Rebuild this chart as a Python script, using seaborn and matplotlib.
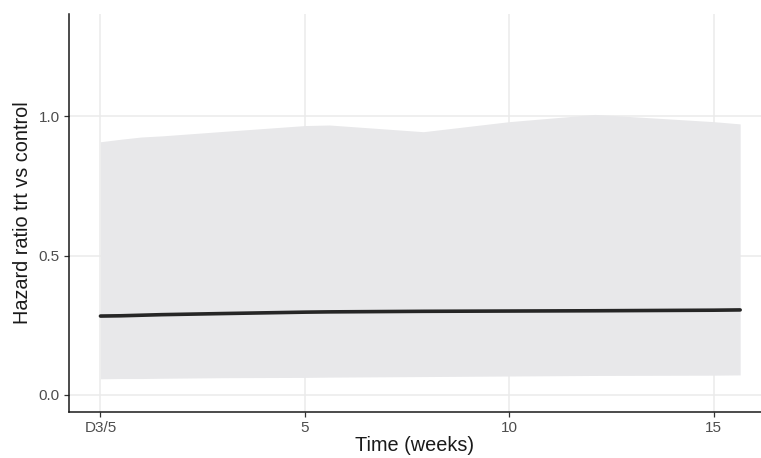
import matplotlib
matplotlib.use("Agg")
import matplotlib.pyplot as plt
import seaborn as sns
import pandas as pd

# Estimated hazard ratio over follow-up with its confidence band
weeks = [0.0, 0.5, 1.0, 1.5, 3.0, 5.0, 5.6, 7.9, 10.0, 12.1, 15.0, 15.65]
hazard_ratio = [0.283, 0.284, 0.286, 0.288, 0.292, 0.297, 0.298, 0.300, 0.301, 0.302, 0.304, 0.305]
ci_lower = [0.058, 0.059, 0.059, 0.060, 0.062, 0.063, 0.064, 0.066, 0.068, 0.070, 0.071, 0.072]
ci_upper = [0.908, 0.917, 0.925, 0.929, 0.945, 0.966, 0.968, 0.944, 0.980, 1.006, 0.980, 0.972]

x_ticks = [0, 5, 10, 15]
x_tick_labels = ["D3/5", "5", "10", "15"]
y_ticks = [0.0, 0.5, 1.0]
y_tick_labels = ["0.0", "0.5", "1.0"]

df = pd.DataFrame({"week": weeks, "hr": hazard_ratio, "lo": ci_lower, "hi": ci_upper})

sns.set_theme(style="white")
plt.rcParams["font.family"] = ["Liberation Sans", "DejaVu Sans"]

fig = plt.figure(figsize=(7.61, 4.58), dpi=100)
ax = fig.add_axes([69 / 761, 1 - 412 / 458, (761 - 69) / 761, (412 - 14) / 458])

ax.fill_between(df["week"], df["lo"], df["hi"], color="#e8e8ea", linewidth=0, zorder=2)
sns.lineplot(data=df, x="week", y="hr", color="#262626", linewidth=2.6, ax=ax, zorder=3)

ax.set_xlim(-0.77, 16.16)
ax.set_ylim(-0.061, 1.366)
ax.set_xticks(x_ticks)
ax.set_xticklabels(x_tick_labels)
ax.set_yticks(y_ticks)
ax.set_yticklabels(y_tick_labels)

ax.grid(True, color="#ebebeb", linewidth=1.1, zorder=1)
ax.set_axisbelow(True)

for side in ["top", "right"]:
    ax.spines[side].set_visible(False)
for side in ["left", "bottom"]:
    ax.spines[side].set_color("#1a1a1a")
    ax.spines[side].set_linewidth(1.1)

ax.tick_params(axis="both", which="major", length=3.5, width=0.9, color="#333333",
               labelcolor="#4d4d4d", labelsize=11, pad=3, bottom=True, left=True)

ax.set_xlabel("Time (weeks)", fontsize=14.3, color="#1a1a1a", labelpad=1)
ax.set_ylabel("Hazard ratio trt vs control", fontsize=14.3, color="#1a1a1a", labelpad=5)

fig.savefig("out.png", dpi=100)
